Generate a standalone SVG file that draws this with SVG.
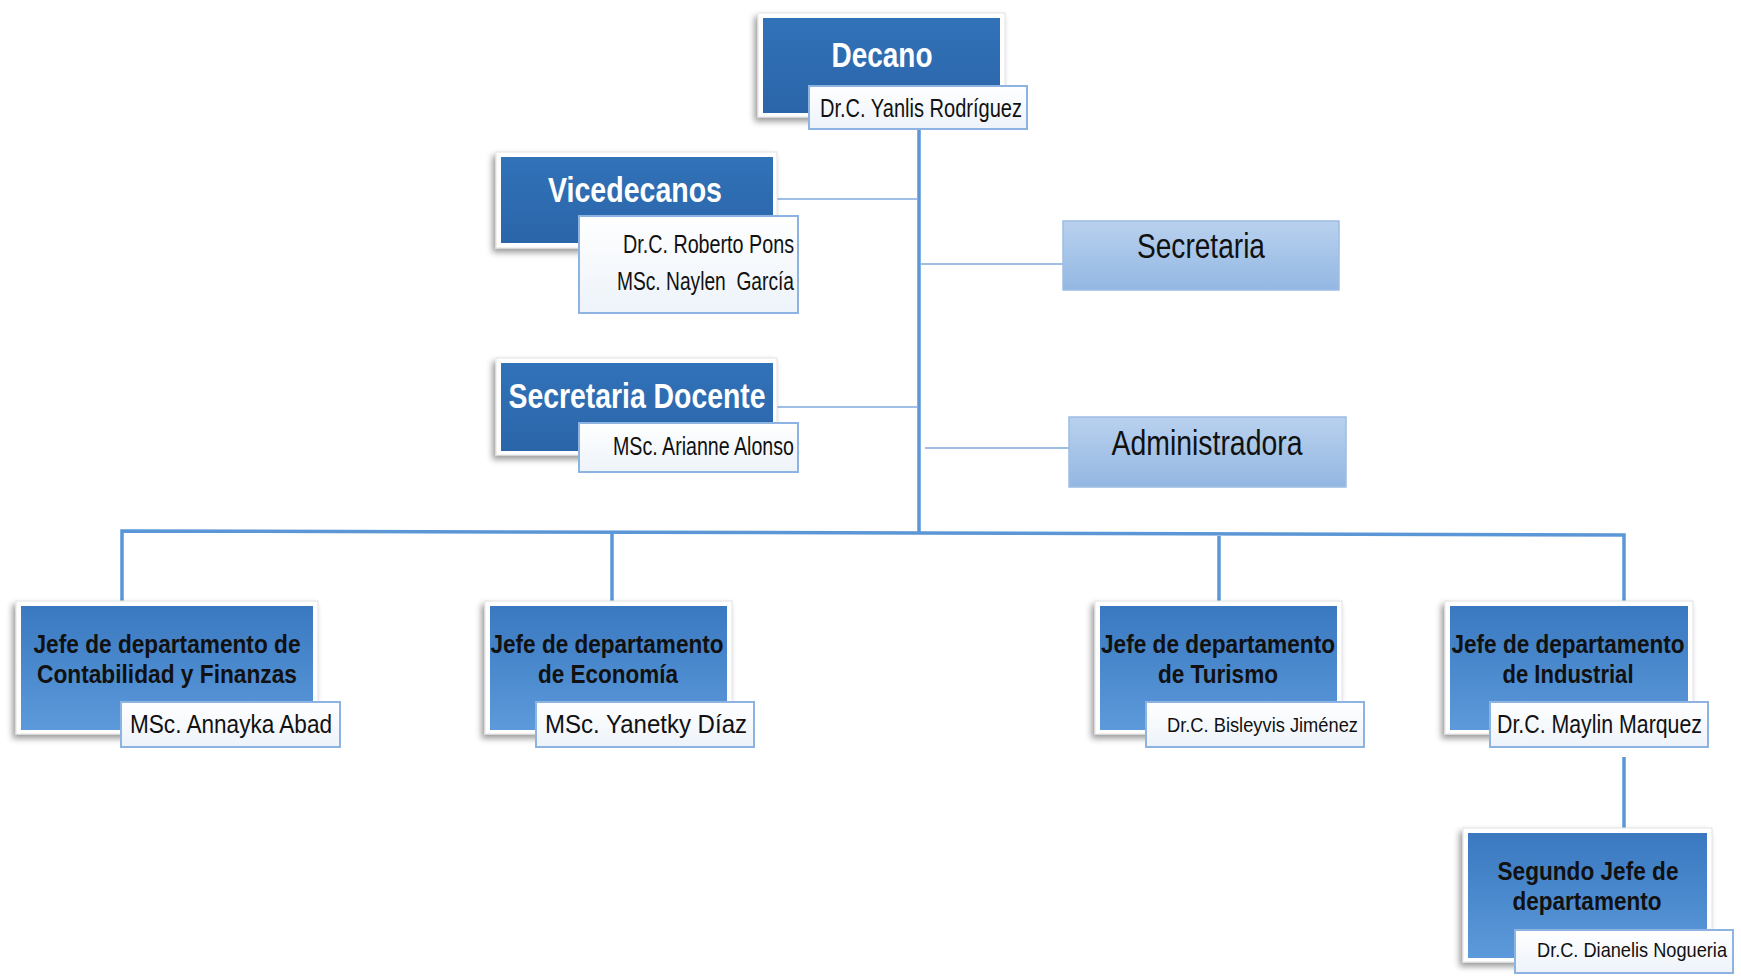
<svg xmlns="http://www.w3.org/2000/svg" width="1741" height="978" viewBox="0 0 1741 978">
<defs>
<linearGradient id="gDark" x1="0" y1="0" x2="0" y2="1"><stop offset="0" stop-color="#3172B8"/><stop offset="1" stop-color="#2B65A9"/></linearGradient>
<linearGradient id="gMid" x1="0" y1="0" x2="0" y2="1"><stop offset="0" stop-color="#3A78C0"/><stop offset="1" stop-color="#5C9ADB"/></linearGradient>
<linearGradient id="gLight" x1="0" y1="0" x2="0" y2="1"><stop offset="0" stop-color="#B9D1EE"/><stop offset="1" stop-color="#93B7E2"/></linearGradient>
<linearGradient id="gName" x1="0" y1="0" x2="0" y2="1"><stop offset="0" stop-color="#FFFFFF"/><stop offset="1" stop-color="#EDF3FA"/></linearGradient>
<filter id="shadow" x="-10%" y="-10%" width="120%" height="130%"><feDropShadow dx="-3" dy="4" stdDeviation="3" flood-color="#000" flood-opacity="0.4"/></filter>
</defs>
<style>
.frame{fill:#FFFFFF;stroke:#E2E2E2;stroke-width:1;filter:url(#shadow)}
.dark{fill:url(#gDark)}
.mid{fill:url(#gMid)}
.light{fill:url(#gLight);stroke:#9DBDE5;stroke-width:1.5}
.name{fill:url(#gName);stroke:#8DB3E2;stroke-width:2}
.t{font-family:"Liberation Sans Narrow","Liberation Sans",Arial,sans-serif}
.wt{fill:#FFFFFF;font-weight:bold;font-size:35px}
.bt{fill:#111111;font-weight:bold;font-size:26px}
.nt{fill:#111111;font-size:26px}
.st{fill:#111111;font-size:21px}
.lt{fill:#111111;font-size:35px}
.main{fill:none;stroke:#5B97D6;stroke-width:3.5}
.thin{fill:none;stroke:#7FAADC;stroke-width:1.5}
</style>
<rect width="1741" height="978" fill="#FFFFFF"/>
<g id="connectors">
<path class="main" d="M919,129 V533"/>
<path class="main" d="M122,605 V531 L919,533 L1624,535 V607"/>
<path class="main" d="M612,534 V606"/>
<path class="main" d="M1219,536 V606"/>
<path class="main" d="M1624,757 V832"/>
<path class="thin" d="M777,199 H917"/>
<path class="thin" d="M777,407 H917"/>
<path class="thin" d="M921,264 H1063"/>
<path class="thin" d="M925,448 H1069"/>
</g>
<g id="decano">
<rect class="frame" x="758" y="13" width="247" height="104"/>
<rect class="dark" x="763" y="18" width="237" height="95"/>
<text class="t wt" x="882" y="67" text-anchor="middle" font-size="33" textLength="101" lengthAdjust="spacingAndGlyphs">Decano</text>
<rect class="name" x="809" y="86" width="218" height="43"/>
<text class="t nt" x="820" y="117" textLength="202" lengthAdjust="spacingAndGlyphs">Dr.C. Yanlis Rodríguez</text>
</g>
<g id="vicedecanos">
<rect class="frame" x="496" y="152" width="281" height="96"/>
<rect class="dark" x="501" y="157" width="272" height="86"/>
<text class="t wt" x="635" y="202" text-anchor="middle" textLength="174" lengthAdjust="spacingAndGlyphs">Vicedecanos</text>
<rect class="name" x="579" y="216" width="219" height="97"/>
<text class="t nt" x="794" y="253" text-anchor="end" font-size="25" textLength="171" lengthAdjust="spacingAndGlyphs">Dr.C. Roberto Pons</text>
<text class="t nt" x="794" y="290" text-anchor="end" font-size="25" textLength="177" lengthAdjust="spacingAndGlyphs" xml:space="preserve">MSc. Naylen  García</text>
</g>
<g id="secretaria-docente">
<rect class="frame" x="496" y="358" width="281" height="97"/>
<rect class="dark" x="501" y="363" width="272" height="88"/>
<text class="t wt" x="637" y="408" text-anchor="middle" textLength="257" lengthAdjust="spacingAndGlyphs">Secretaria Docente</text>
<rect class="name" x="579" y="423" width="219" height="49"/>
<text class="t nt" x="794" y="455" text-anchor="end" font-size="25" textLength="181" lengthAdjust="spacingAndGlyphs">MSc. Arianne Alonso</text>
</g>
<g id="secretaria">
<rect class="light" x="1063" y="221" width="276" height="69"/>
<text class="t lt" x="1201" y="258" text-anchor="middle" textLength="128" lengthAdjust="spacingAndGlyphs">Secretaria</text>
</g>
<g id="administradora">
<rect class="light" x="1069" y="417" width="277" height="70"/>
<text class="t lt" x="1207" y="455" text-anchor="middle" textLength="191" lengthAdjust="spacingAndGlyphs">Administradora</text>
</g>
<g id="jefe-contabilidad">
<rect class="frame" x="16" y="601" width="302" height="133"/>
<rect class="mid" x="21" y="606" width="292" height="124"/>
<text class="t bt" x="167" y="653" text-anchor="middle" textLength="267" lengthAdjust="spacingAndGlyphs">Jefe de departamento de</text>
<text class="t bt" x="167" y="683" text-anchor="middle" textLength="260" lengthAdjust="spacingAndGlyphs">Contabilidad y Finanzas</text>
<rect class="name" x="121" y="702" width="219" height="45"/>
<text class="t nt" x="130" y="733" font-size="27" textLength="202" lengthAdjust="spacingAndGlyphs">MSc. Annayka Abad</text>
</g>
<g id="jefe-economia">
<rect class="frame" x="485" y="601" width="247" height="133"/>
<rect class="mid" x="490" y="606" width="237" height="124"/>
<text class="t bt" x="607" y="653" text-anchor="middle" textLength="233" lengthAdjust="spacingAndGlyphs">Jefe de departamento</text>
<text class="t bt" x="608" y="683" text-anchor="middle" textLength="140" lengthAdjust="spacingAndGlyphs">de Economía</text>
<rect class="name" x="536" y="702" width="218" height="45"/>
<text class="t nt" x="545" y="733" font-size="27" textLength="202" lengthAdjust="spacingAndGlyphs">MSc. Yanetky Díaz</text>
</g>
<g id="jefe-turismo">
<rect class="frame" x="1095" y="601" width="247" height="133"/>
<rect class="mid" x="1100" y="606" width="237" height="124"/>
<text class="t bt" x="1218" y="653" text-anchor="middle" textLength="234" lengthAdjust="spacingAndGlyphs">Jefe de departamento</text>
<text class="t bt" x="1218" y="683" text-anchor="middle" textLength="120" lengthAdjust="spacingAndGlyphs">de Turismo</text>
<rect class="name" x="1146" y="702" width="218" height="45"/>
<text class="t st" x="1358" y="732" text-anchor="end" textLength="191" lengthAdjust="spacingAndGlyphs">Dr.C. Bisleyvis Jiménez</text>
</g>
<g id="jefe-industrial">
<rect class="frame" x="1445" y="601" width="248" height="133"/>
<rect class="mid" x="1450" y="606" width="238" height="124"/>
<text class="t bt" x="1568" y="653" text-anchor="middle" textLength="233" lengthAdjust="spacingAndGlyphs">Jefe de departamento</text>
<text class="t bt" x="1568" y="683" text-anchor="middle" textLength="131" lengthAdjust="spacingAndGlyphs">de Industrial</text>
<rect class="name" x="1490" y="702" width="218" height="45"/>
<text class="t nt" x="1497" y="733" font-size="27" textLength="205" lengthAdjust="spacingAndGlyphs">Dr.C. Maylin Marquez</text>
</g>
<g id="segundo-jefe">
<rect class="frame" x="1463" y="828" width="249" height="134"/>
<rect class="mid" x="1468" y="833" width="239" height="125"/>
<text class="t bt" x="1588" y="880" text-anchor="middle" textLength="181" lengthAdjust="spacingAndGlyphs">Segundo Jefe de</text>
<text class="t bt" x="1587" y="910" text-anchor="middle" textLength="149" lengthAdjust="spacingAndGlyphs">departamento</text>
<rect class="name" x="1515" y="930" width="218" height="43"/>
<text class="t st" x="1727" y="957" text-anchor="end" textLength="190" lengthAdjust="spacingAndGlyphs">Dr.C. Dianelis Nogueria</text>
</g>
</svg>
